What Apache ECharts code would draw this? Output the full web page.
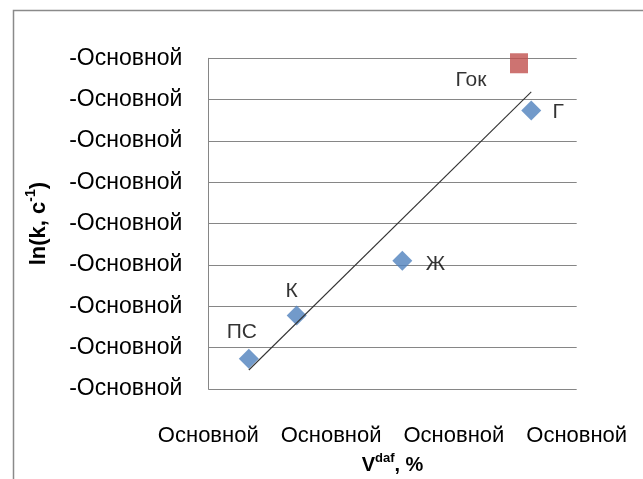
<!DOCTYPE html>
<html><head><meta charset="utf-8">
<script src="https://cdn.jsdelivr.net/npm/echarts@6/dist/echarts.min.js"></script>
<style>html,body{margin:0;padding:0;background:#fff}#c{width:643px;height:479px}</style>
</head><body><div id="c"></div>
<script>
// Data
const pointNames = ['ПС', 'К', 'Ж', 'Г'];
const vdaf = [13.3, 17.2, 25.8, 36.3];
const lnk = [-8.27, -7.22, -5.90, -2.26];
const gokName = ['Гок'];
const gokVdaf = [35.3];
const gokLnk = [-1.12];
const trendX = [13.3, 36.3];
const trendY = [-8.54, -1.81];
const xTickLabel = 'Основной';
const yTickLabel = '-Основной';

const labelOffsets = { 'ПС': [-7, -27], 'К': [-5, -24], 'Ж': [33, 3], 'Г': [27, 2], 'Гок': [-48, 17] };
const FONT = 'Liberation Sans';

function withLabels(names, xs, ys) {
  return names.map((n, i) => ({
    name: n, value: [xs[i], ys[i]],
    label: { show: true, formatter: n, position: 'inside', offset: labelOffsets[n],
      color: '#000', fontFamily: FONT, fontSize: 21 }
  }));
}

const chart = echarts.init(document.getElementById('c'), null, { renderer: 'canvas' });
chart.setOption({
  animation: false,
  backgroundColor: '#fff',
  graphic: [{ type: 'rect', left: 11, top: 8, shape: { width: 700, height: 520 },
    style: { fill: 'none', stroke: '#8a8a8a', lineWidth: 1.5 }, silent: true }],
  grid: { left: 208.3, right: 66.3, top: 58.3, bottom: 90, containLabel: false, outerBoundsMode: 'none' },
  xAxis: {
    type: 'value', min: 10, max: 40, interval: 10,
    axisLine: { show: false }, axisTick: { show: false }, splitLine: { show: false },
    axisLabel: { formatter: () => xTickLabel, margin: 36, color: '#000', fontFamily: FONT, fontSize: 22 },
    name: '{v|V}{s|daf}{v|, %}', nameLocation: 'middle', nameGap: 60,
    nameTextStyle: { rich: {
      v: { fontFamily: FONT, fontSize: 20, fontWeight: 'bold', color: '#000', lineHeight: 24, verticalAlign: 'bottom' },
      s: { fontFamily: FONT, fontSize: 13, fontWeight: 'bold', color: '#000', lineHeight: 24, verticalAlign: 'top', padding: [0, 0, 10, 0] }
    } }
  },
  yAxis: {
    type: 'value', min: -9, max: -1, interval: 1,
    axisLine: { show: true, lineStyle: { color: '#868686', width: 1 } },
    axisTick: { show: false },
    splitLine: { show: true, lineStyle: { color: '#868686', width: 1 } },
    axisLabel: { formatter: () => yTickLabel, margin: 26, color: '#000', fontFamily: FONT, fontSize: 23 },
    name: '{v|ln(k, c}{s|-1}{v|)}', nameLocation: 'middle', nameGap: 158, nameRotate: 90,
    nameTextStyle: { rich: {
      v: { fontFamily: FONT, fontSize: 22, fontWeight: 'bold', color: '#000', lineHeight: 26, verticalAlign: 'bottom' },
      s: { fontFamily: FONT, fontSize: 14, fontWeight: 'bold', color: '#000', lineHeight: 26, verticalAlign: 'top', padding: [0, 0, 11, 0] }
    } }
  },
  series: [
    { type: 'line', data: trendX.map((x, i) => [x, trendY[i]]), showSymbol: false, symbol: 'none',
      lineStyle: { color: '#333', width: 1.1 }, z: 3 },
    { type: 'scatter', data: withLabels(pointNames, vdaf, lnk), symbol: 'diamond', symbolSize: [20, 20],
      itemStyle: { color: '#4F81BD' }, z: 2 },
    { type: 'scatter', data: withLabels(gokName, gokVdaf, gokLnk), symbol: 'rect', symbolSize: [18, 20],
      itemStyle: { color: '#C0504D' }, z: 2 }
  ]
});
</script></body></html>
